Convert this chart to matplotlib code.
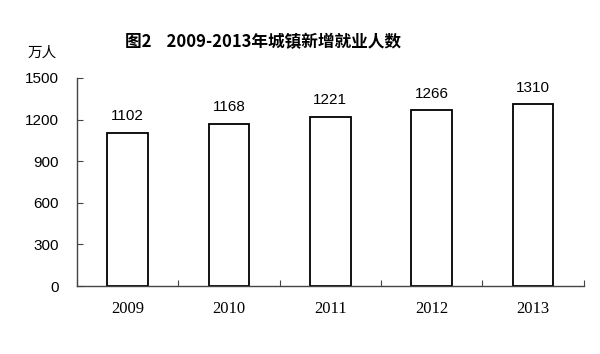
import matplotlib
matplotlib.use('Agg')
import matplotlib.pyplot as plt
import numpy as np

years = ['2009', '2010', '2011', '2012', '2013']
jobs = [1102, 1168, 1221, 1266, 1310]
yticks = [0, 300, 600, 900, 1200, 1500]

fig = plt.figure(figsize=(6.0, 3.54), dpi=100)
ax = fig.add_axes([0.128, 0.192, 0.845, 0.588])

x = np.arange(len(years))
ax.bar(x, jobs, width=0.4, color='white', edgecolor='black', linewidth=1.3)
for xi, v in zip(x, jobs):
    ax.text(xi, v + 70, str(v), ha='center', va='bottom',
            family='Liberation Sans', fontsize=11)

ax.set_xlim(-0.5, len(years) - 0.5)
ax.set_ylim(0, 1500)
ax.set_yticks(yticks)
ax.set_yticklabels([str(t) for t in yticks], family='Liberation Sans', fontsize=11)
ax.tick_params(axis='y', direction='in', length=4, pad=13, color='#444444')

# category labels centered, boundary ticks pointing up
ax.set_xticks(np.arange(-0.5, len(years), 1.0))
ax.set_xticklabels([])
ax.set_xticks(x, minor=True)
ax.set_xticklabels(years, minor=True, family='Liberation Serif', fontsize=12)
ax.tick_params(axis='x', which='major', direction='in', length=4, color='#444444')
ax.tick_params(axis='x', which='minor', length=0, pad=11)

for s in ['top', 'right']:
    ax.spines[s].set_visible(False)
for s in ['left', 'bottom']:
    ax.spines[s].set_color('#444444')
    ax.spines[s].set_linewidth(1.0)

fig.text(0.438, 0.88, '图2    2009-2013年城镇新增就业人数', ha='center', va='center',
         family=['Noto Sans CJK SC', 'DejaVu Sans'], fontsize=12, weight='bold')
fig.text(0.07, 0.85, '万人', ha='center', va='center',
         family=['Noto Sans CJK SC', 'DejaVu Sans'], fontsize=10.5)

fig.savefig('out.png', dpi=100)
